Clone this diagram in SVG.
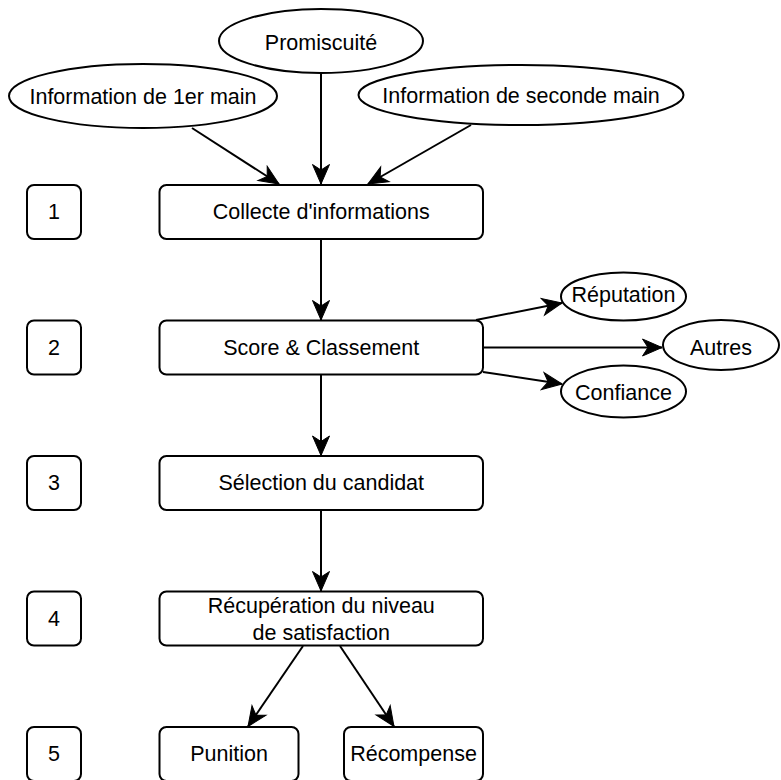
<svg xmlns="http://www.w3.org/2000/svg" width="781" height="780" viewBox="0 0 781 780">
<style>
.n{fill:#fff;stroke:#000;stroke-width:2}
.t{font-family:"Liberation Sans",Arial,sans-serif;font-size:21.5px;fill:#000;text-anchor:middle;dominant-baseline:central}
.e{fill:none;stroke:#000;stroke-width:2}
</style>
<defs>
<marker id="arr" markerUnits="userSpaceOnUse" viewBox="-21 -10 22 20" refX="0" refY="0" markerWidth="22" markerHeight="20" orient="auto">
<path d="M0,0 L-19.5,-8.5 L-14,0 L-19.5,8.5 Z" fill="#000" stroke="#000" stroke-width="1"/>
</marker>
</defs>
<rect width="781" height="780" fill="#fff"/>
<g id="connectors">
<line class="e" x1="192" y1="128" x2="279" y2="184" marker-end="url(#arr)"/>
<line class="e" x1="321" y1="73" x2="321" y2="184" marker-end="url(#arr)"/>
<line class="e" x1="471" y1="125" x2="368" y2="184" marker-end="url(#arr)"/>
<line class="e" x1="321" y1="239" x2="321" y2="320" marker-end="url(#arr)"/>
<line class="e" x1="321" y1="375" x2="321" y2="455.5" marker-end="url(#arr)"/>
<line class="e" x1="321" y1="510" x2="321" y2="591" marker-end="url(#arr)"/>
<line class="e" x1="476" y1="320" x2="562" y2="303" marker-end="url(#arr)"/>
<line class="e" x1="483" y1="347.5" x2="662" y2="347.5" marker-end="url(#arr)"/>
<line class="e" x1="483" y1="372" x2="562" y2="384" marker-end="url(#arr)"/>
<line class="e" x1="303" y1="646" x2="248" y2="726.5" marker-end="url(#arr)"/>
<line class="e" x1="340" y1="646" x2="394" y2="726.5" marker-end="url(#arr)"/>
</g>
<g id="promiscuite"><ellipse class="n" cx="321" cy="41" rx="102" ry="32"/><text class="t" x="321" y="43">Promiscuité</text></g>
<g id="info1"><ellipse class="n" cx="143" cy="96" rx="134" ry="32"/><text class="t" x="143" y="97">Information de 1er main</text></g>
<g id="info2"><ellipse class="n" cx="521" cy="95" rx="162.5" ry="30"/><text class="t" x="521" y="96">Information de seconde main</text></g>
<g id="num1"><rect class="n" x="27" y="185" width="54" height="54" rx="7"/><text class="t" x="54" y="212">1</text></g>
<g id="num2"><rect class="n" x="27" y="320.5" width="54" height="54" rx="7"/><text class="t" x="54" y="347.5">2</text></g>
<g id="num3"><rect class="n" x="27" y="456" width="54" height="54" rx="7"/><text class="t" x="54" y="483">3</text></g>
<g id="num4"><rect class="n" x="27" y="591.5" width="54" height="54" rx="7"/><text class="t" x="54" y="618.5">4</text></g>
<g id="num5"><rect class="n" x="27" y="727" width="54" height="54" rx="7"/><text class="t" x="54" y="754">5</text></g>
<g id="collecte"><rect class="n" x="159.5" y="185" width="323.5" height="54" rx="7"/><text class="t" x="321.25" y="212">Collecte d'informations</text></g>
<g id="score"><rect class="n" x="159.5" y="320.5" width="323.5" height="54" rx="7"/><text class="t" x="321.25" y="347.5">Score &amp; Classement</text></g>
<g id="selection"><rect class="n" x="159.5" y="456" width="323.5" height="54" rx="7"/><text class="t" x="321.25" y="483">Sélection du candidat</text></g>
<g id="recuperation"><rect class="n" x="159.5" y="591.5" width="323.5" height="54" rx="7"/><text class="t" x="321.25" y="606">Récupération du niveau</text><text class="t" x="321.25" y="632.5">de satisfaction</text></g>
<g id="punition"><rect class="n" x="159.5" y="727" width="139" height="54" rx="7"/><text class="t" x="229" y="754">Punition</text></g>
<g id="recompense"><rect class="n" x="344" y="727" width="139" height="54" rx="7"/><text class="t" x="413.5" y="754">Récompense</text></g>
<g id="reputation"><ellipse class="n" cx="623.5" cy="296.5" rx="62.5" ry="24"/><text class="t" x="623.5" y="295">Réputation</text></g>
<g id="autres"><ellipse class="n" cx="721" cy="345" rx="58" ry="25"/><text class="t" x="721" y="348">Autres</text></g>
<g id="confiance"><ellipse class="n" cx="623.5" cy="391.5" rx="62.5" ry="26"/><text class="t" x="623.5" y="393">Confiance</text></g>
</svg>
